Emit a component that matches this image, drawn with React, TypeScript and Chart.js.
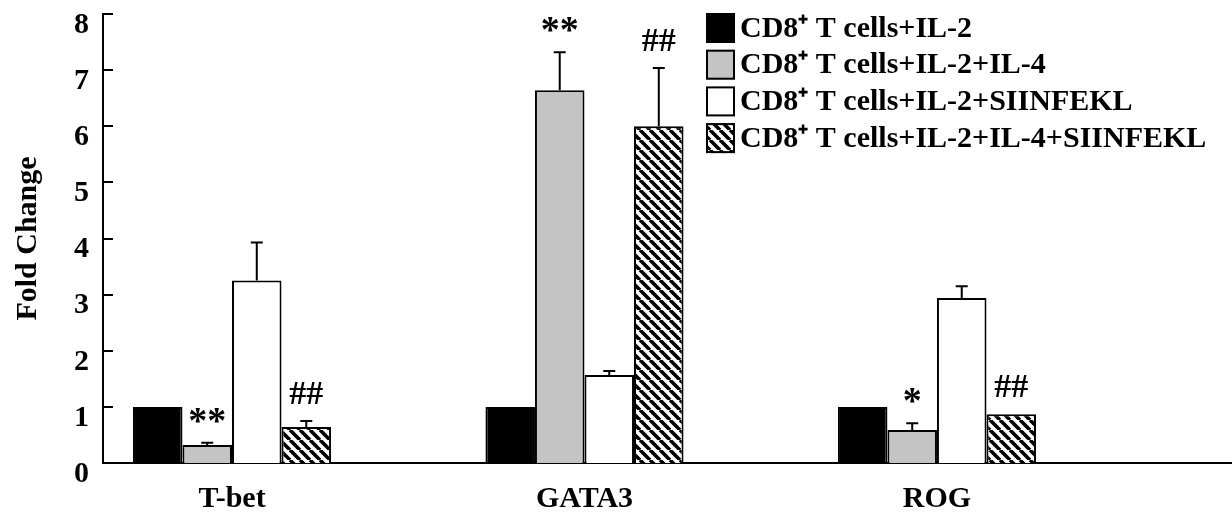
import React, { useEffect, useRef } from 'react';
import { Chart, registerables } from 'chart.js';

Chart.register(...registerables);

// ---- data ----
const categories = ['T-bet', 'GATA3', 'ROG'];
const seriesLabels = [
  'CD8⁺ T cells+IL-2',
  'CD8⁺ T cells+IL-2+IL-4',
  'CD8⁺ T cells+IL-2+SIINFEKL',
  'CD8⁺ T cells+IL-2+IL-4+SIINFEKL',
];
const il2 = [1, 1, 1];
const il2Il4 = [0.32, 6.64, 0.59];
const il2Siin = [3.25, 1.57, 2.94];
const il2Il4Siin = [0.64, 6.0, 0.87];

const il2Err = [0, 0, 0];
const il2Il4Err = [0.04, 0.68, 0.12];
const il2SiinErr = [0.68, 0.07, 0.21];
const il2Il4SiinErr = [0.11, 1.04, 0];

const il2Sig = ['', '', ''];
const il2Il4Sig = ['**', '**', '*'];
const il2SiinSig = ['', '', ''];
const il2Il4SiinSig = ['##', '##', '##'];

const yTicks = [0, 1, 2, 3, 4, 5, 6, 7, 8];
const yTitle = 'Fold Change';

const seriesValues = [il2, il2Il4, il2Siin, il2Il4Siin];
const seriesErrors = [il2Err, il2Il4Err, il2SiinErr, il2Il4SiinErr];
const seriesSig = [il2Sig, il2Il4Sig, il2SiinSig, il2Il4SiinSig];

const FAMILY = '"Liberation Serif", "Times New Roman", serif';

function makeHatch(): CanvasPattern | string {
  const s = 10;
  const c = document.createElement('canvas');
  c.width = s;
  c.height = s;
  const g = c.getContext('2d');
  if (!g) return '#888';
  g.fillStyle = '#ffffff';
  g.fillRect(0, 0, s, s);
  g.strokeStyle = '#000000';
  g.lineWidth = 3.6;
  g.beginPath();
  for (const o of [-s, 0, s]) {
    g.moveTo(o, 0);
    g.lineTo(o + s, s);
  }
  g.stroke();
  return g.createPattern(c, 'repeat') || '#888';
}

const errorPlugin = {
  id: 'errorBarsAndSig',
  afterDatasetsDraw(chart: any) {
    const ctx = chart.ctx;
    const yScale = chart.scales.y;
    ctx.save();
    seriesValues.forEach((vals, di) => {
      const meta = chart.getDatasetMeta(di);
      meta.data.forEach((bar: any, i: number) => {
        const v = vals[i];
        const e = seriesErrors[di][i];
        const xC = bar.x;
        const yV = yScale.getPixelForValue(v);
        const yT = yScale.getPixelForValue(v + e);
        if (e > 0) {
          ctx.strokeStyle = '#000';
          ctx.lineWidth = 2;
          ctx.beginPath();
          ctx.moveTo(xC, yV);
          ctx.lineTo(xC, yT);
          ctx.moveTo(xC - 6, yT);
          ctx.lineTo(xC + 6, yT);
          ctx.stroke();
        }
        const s = seriesSig[di][i];
        if (s) {
          ctx.fillStyle = '#000';
          ctx.textAlign = 'center';
          ctx.textBaseline = 'alphabetic';
          if (s.startsWith('*')) {
            ctx.font = `bold 38px ${FAMILY}`;
            ctx.fillText(s, xC, yT - 10);
          } else {
            ctx.font = `bold 34px ${FAMILY}`;
            ctx.fillText(s, xC, yT - 17);
          }
        }
      });
    });
    ctx.restore();
  },
};

const innerTicksPlugin = {
  id: 'innerTicks',
  afterDraw(chart: any) {
    const ctx = chart.ctx;
    const yScale = chart.scales.y;
    const left = chart.chartArea.left;
    ctx.save();
    ctx.strokeStyle = '#000';
    ctx.lineWidth = 2;
    ctx.beginPath();
    yScale.ticks.forEach((t: any) => {
      const py = Math.round(yScale.getPixelForValue(t.value));
      ctx.moveTo(left, py);
      ctx.lineTo(left + 10, py);
    });
    ctx.stroke();
    ctx.restore();
  },
};

const legendPlugin = {
  id: 'customLegend',
  afterDraw(chart: any) {
    const ctx = chart.ctx;
    const x0 = 706;
    const y0 = 13;
    const rowH = 36.7;
    ctx.save();
    chart.data.datasets.forEach((ds: any, i: number) => {
      const y = y0 + i * rowH;
      ctx.fillStyle = ds.backgroundColor;
      ctx.fillRect(x0, y, 29, 30);
      ctx.strokeStyle = '#000';
      ctx.lineWidth = 2;
      ctx.strokeRect(x0 + 1, y + 1, 27, 28);
      ctx.fillStyle = '#000';
      ctx.font = `bold 30px ${FAMILY}`;
      ctx.textAlign = 'left';
      ctx.textBaseline = 'middle';
      ctx.fillText(ds.label, x0 + 34, y + 16);
    });
    ctx.restore();
  },
};

export default function App() {
  const ref = useRef<HTMLCanvasElement>(null);
  useEffect(() => {
    if (!ref.current) return;
    const hatch = makeHatch();
    const fills: any[] = ['#000000', '#c4c4c4', '#ffffff', hatch];
    const chart = new Chart(ref.current, {
      type: 'bar',
      data: {
        datasets: seriesValues.map((vals, di) => ({
          label: seriesLabels[di],
          data: vals.map((v, i) => ({ x: i, y: v })),
          backgroundColor: fills[di],
          borderColor: '#000000',
          borderWidth: 2,
          categoryPercentage: 0.562,
          barPercentage: 1,
        })),
      },
      options: {
        animation: false,
        responsive: true,
        maintainAspectRatio: false,
        layout: { padding: { top: 14, right: 0, bottom: 0, left: 0 } },
        plugins: {
          legend: { display: false },
          tooltip: { enabled: false },
        },
        scales: {
          x: {
            type: 'linear',
            offset: false,
            min: -0.366,
            max: 2.837,
            afterBuildTicks: (s: any) => {
              s.ticks = categories.map((_, i) => ({ value: i }));
            },
            afterFit: (s: any) => {
              s.height = 60;
              s.paddingLeft = 0;
              s.paddingRight = 0;
            },
            grid: { display: false, drawTicks: false, offset: false },
            border: { display: true, color: '#000', width: 2 },
            ticks: {
              autoSkip: false,
              maxRotation: 0,
              padding: 18,
              color: '#000',
              font: { family: FAMILY, size: 30, weight: 'bold' },
              callback: (v: any) => categories[Number(v)] ?? '',
            },
          },
          y: {
            min: yTicks[0],
            max: yTicks[yTicks.length - 1],
            afterBuildTicks: (s: any) => {
              s.ticks = yTicks.map((v) => ({ value: v }));
            },
            afterFit: (s: any) => {
              s.width = 103;
              s.paddingTop = 0;
              s.paddingBottom = 0;
            },
            grid: { display: false, drawTicks: false },
            border: { display: true, color: '#000', width: 2 },
            ticks: {
              padding: 14,
              labelOffset: 11,
              color: '#000',
              font: { family: FAMILY, size: 30, weight: 'bold' },
            },
            title: {
              display: true,
              text: yTitle,
              color: '#000',
              padding: { top: 10, bottom: 0 },
              font: { family: FAMILY, size: 30, weight: 'bold' },
            },
          },
        },
      } as any,
      plugins: [errorPlugin, innerTicksPlugin, legendPlugin],
    });
    return () => chart.destroy();
  }, []);
  return (
    <div style={{ position: 'fixed', left: 0, top: 0, width: 1232, height: 523, background: '#fff' }}>
      <canvas ref={ref} />
    </div>
  );
}
